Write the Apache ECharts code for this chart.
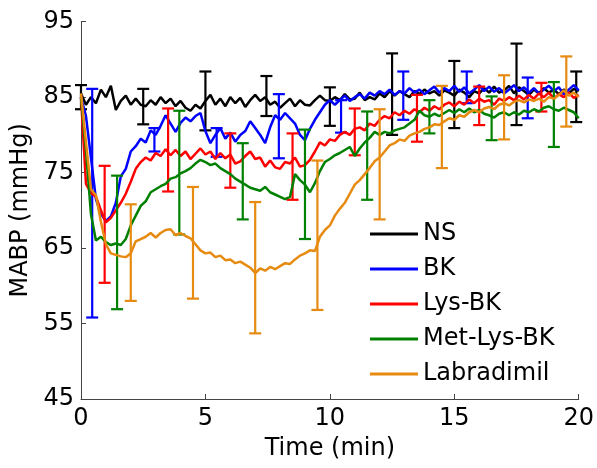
<!DOCTYPE html>
<html>
<head>
<meta charset="utf-8">
<script src="https://cdn.jsdelivr.net/npm/echarts@6/dist/echarts.min.js"></script>
<style>html,body{margin:0;padding:0;background:#fff}#c{width:597px;height:468px}</style>
</head>
<body>
<div id="c"></div>
<script>
var times = [0,0.2,0.4,0.6,0.8,1,1.2,1.4,1.6,1.8,
2,2.2,2.4,2.6,2.8,3,3.2,3.4,3.6,3.8,
4,4.2,4.4,4.6,4.8,5,5.2,5.4,5.6,5.8,
6,6.2,6.4,6.6,6.8,7,7.2,7.4,7.6,7.8,
8,8.2,8.4,8.6,8.8,9,9.2,9.4,9.6,9.8,
10,10.2,10.4,10.6,10.8,11,11.2,11.4,11.6,11.8,
12,12.2,12.4,12.6,12.8,13,13.2,13.4,13.6,13.8,
14,14.2,14.4,14.6,14.8,15,15.2,15.4,15.6,15.8,
16,16.2,16.4,16.6,16.8,17,17.2,17.4,17.6,17.8,
18,18.2,18.4,18.6,18.8,19,19.2,19.4,19.6,19.8,20];

var nsValues = [85.5,84.0,85.0,84.2,86.0,85.0,86.5,83.3,84.5,85.2,
84.0,84.8,84.0,83.8,84.6,84.0,85.0,84.2,84.8,83.8,
84.5,83.6,83.2,84.0,83.5,84.5,85.3,84.0,84.8,83.8,
85.0,84.2,84.9,83.7,84.6,85.3,84.5,85.0,84.0,84.4,
83.6,84.2,84.8,83.8,84.6,84.0,83.9,84.6,85.2,84.6,
84.5,85.0,84.6,85.4,84.7,84.8,85.6,84.6,85.0,84.7,
85.5,85.0,85.8,85.2,85.8,85.4,85.0,85.8,85.4,86.0,
85.5,85.8,85.2,85.9,85.6,85.2,86.0,85.6,85.0,85.8,
85.5,86.2,85.6,86.4,85.6,85.9,86.5,85.5,86.3,85.8,
85.3,86.0,85.5,86.2,85.6,86.0,85.4,86.0,85.5,86.1,85.8];

var bkValues = [85.0,82.5,77.0,71.5,69.5,68.6,69.2,71.0,74.5,75.5,
77.8,78.5,79.5,79.0,80.6,80.0,81.2,82.6,81.5,80.4,
81.6,82.3,81.8,82.5,82.9,80.5,78.9,80.0,80.9,79.5,
80.3,79.1,80.0,80.5,81.8,80.9,80.0,78.9,81.0,82.6,
82.0,82.9,82.2,81.5,80.0,79.3,80.8,82.0,83.0,84.0,
84.6,84.0,84.6,85.2,84.5,85.0,85.4,84.8,85.6,85.2,
85.8,85.4,86.0,85.3,85.8,85.5,86.2,85.6,86.0,85.4,
85.9,86.4,85.6,86.2,85.8,86.5,85.7,86.3,85.5,86.0,
86.6,85.8,86.4,85.7,86.2,85.5,86.0,86.6,85.8,86.3,
85.6,86.2,85.5,86.0,86.5,85.8,86.3,85.4,86.0,86.6,85.9];

var lysValues = [85.0,73.5,72.3,71.8,70.0,68.4,69.0,70.0,71.0,72.2,
73.8,75.5,76.4,77.0,76.6,77.6,77.2,78.1,77.3,78.0,
77.2,77.8,76.8,77.5,78.2,77.4,77.8,76.8,77.6,76.9,
77.4,76.2,76.5,77.2,77.8,76.8,77.0,75.8,76.6,75.7,
75.5,76.4,76.2,77.0,75.8,76.0,76.7,77.8,79.0,78.6,
79.4,79.2,80.0,80.4,80.0,80.8,81.0,80.6,81.5,81.2,
82.0,82.5,82.2,83.0,82.6,83.2,82.8,83.4,83.0,83.6,
83.2,83.8,83.4,84.0,84.3,83.8,84.4,84.0,84.7,84.2,
84.8,84.4,84.6,84.0,84.8,84.5,85.0,84.6,85.2,84.7,
85.3,84.8,85.5,85.0,85.6,84.8,85.4,85.0,85.6,84.9,85.3];

var metValues = [85.0,78.0,69.5,66.0,66.5,65.8,65.4,65.6,65.4,66.2,
68.0,69.3,70.6,71.2,72.4,72.8,73.2,73.5,74.2,74.4,
74.9,75.2,75.6,76.2,76.7,76.4,76.0,76.2,75.6,75.2,
74.8,74.2,73.8,73.4,73.0,72.8,72.6,73.1,72.4,72.1,
71.8,71.5,71.8,74.8,74.0,73.4,72.4,73.6,75.2,76.4,
76.8,77.3,77.6,78.0,78.4,77.2,78.2,79.0,79.6,80.4,
80.0,80.4,80.2,80.6,80.8,81.0,81.5,82.0,83.2,82.6,
82.4,82.8,82.5,82.9,83.3,82.9,83.4,83.0,83.5,83.0,
83.3,82.8,82.6,82.3,82.8,83.0,82.6,83.0,82.7,83.2,
83.0,83.4,83.1,83.6,83.8,83.4,83.2,83.6,83.3,83.0,82.2];

var labValues = [85.5,79.0,72.8,72.0,68.5,65.5,64.3,64.1,63.9,63.8,
64.3,65.9,66.2,66.5,67.0,66.4,67.0,67.4,67.5,66.7,
67.0,66.6,66.3,65.5,64.7,64.3,64.4,63.8,64.0,63.4,
63.5,63.0,63.2,62.8,62.4,61.7,62.3,62.0,62.5,62.2,
62.6,63.0,62.9,63.5,64.0,64.3,64.7,64.6,66.5,67.4,
68.0,69.3,70.2,71.0,72.2,73.4,74.0,74.8,75.6,76.5,
77.0,77.8,78.6,78.9,79.4,79.2,79.9,80.2,80.4,80.8,
81.0,81.4,81.3,81.8,82.2,82.0,82.6,82.4,83.0,83.3,
83.0,83.5,83.7,83.4,84.0,84.2,83.9,84.4,84.6,84.3,
84.7,84.5,84.8,84.4,85.0,84.8,85.3,85.9,85.2,85.6,85.0];

// error bars: [time, low, high]
var nsErr  = [[0,83.4,86.6],[2.5,81.4,86.1],[5,80.6,88.4],[7.45,82.5,87.8],[10,81.2,86.3],[12.5,80.0,90.8],[15,80.9,89.8],[17.5,81.3,92.1],[19.9,81.7,88.4]];
var bkErr  = [[0.45,55.8,86.1],[2.95,77.8,80.9],[5.45,77.1,80.9],[7.95,76.9,85.4],[10.45,80.3,84.6],[12.95,82.0,88.4],[15.5,84.2,88.4],[17.95,82.2,87.6]];
var lysErr = [[0.95,60.4,75.9],[3.5,72.5,83.5],[6.0,73.0,80.2],[8.5,71.4,80.2],[11.0,77.3,83.5],[13.5,79.1,85.3],[16.0,81.3,86.4],[18.5,83.1,86.9]];
var metErr = [[1.45,56.9,74.6],[3.95,66.8,83.2],[6.5,68.8,78.9],[9.0,66.2,80.7],[11.5,71.4,83.1],[14.0,80.2,84.6],[16.5,79.3,85.1],[19.0,78.4,87.0]];
var labErr = [[2.0,58.0,70.8],[4.5,58.3,73.1],[7.0,53.7,71.1],[9.5,56.8,76.6],[12.0,68.8,83.4],[14.5,75.6,86.5],[17.0,79.4,87.9],[19.5,81.1,90.4]];

var names  = ['NS','BK','Lys-BK','Met-Lys-BK','Labradimil'];
var colors = ['#000000','#0000ff','#ff0000','#008000','#e68a10'];
var seriesVals = [nsValues,bkValues,lysValues,metValues,labValues];
var seriesErr  = [nsErr,bkErr,lysErr,metErr,labErr];

var FONT = 'DejaVu Sans';

function pairs(vals){ return times.map(function(t,i){ return [t, vals[i]]; }); }

function errRender(color){
  return function(params, api){
    var x = api.value(0), lo = api.value(1), hi = api.value(2);
    var a = api.coord([x, lo]), b = api.coord([x, hi]);
    var w = 6;
    var st = {stroke: color, lineWidth: 2.2};
    return {type:'group', children:[
      {type:'line', shape:{x1:a[0],y1:a[1],x2:b[0],y2:b[1]}, style:st},
      {type:'line', shape:{x1:a[0]-w,y1:a[1],x2:a[0]+w,y2:a[1]}, style:st},
      {type:'line', shape:{x1:b[0]-w,y1:b[1],x2:b[0]+w,y2:b[1]}, style:st}
    ]};
  };
}

var series = [];
for (var k=0;k<names.length;k++){
  series.push({
    name: names[k], type:'line', data: pairs(seriesVals[k]),
    symbol:'none', showSymbol:false, smooth:false,
    lineStyle:{color:colors[k], width:2.5}, itemStyle:{color:colors[k]},
    z: 2 + k*2, clip:false
  });
  series.push({
    name: names[k]+'_err', type:'custom', data: seriesErr[k],
    renderItem: errRender(colors[k]), encode:{x:0,y:[1,2]},
    z: 3 + k*2, clip:false
  });
}

var chart = echarts.init(document.getElementById('c'), null, {renderer:'canvas'});
chart.setOption({
  animation:false,
  backgroundColor:'#fff',
  grid:{left:81, right:17, top:21.7, bottom:69, containLabel:false},
  xAxis:{
    type:'value', min:0, max:20, interval:5,
    name:'Time (min)', nameLocation:'middle', nameGap:38,
    nameTextStyle:{fontFamily:FONT, fontSize:24, color:'#000'},
    axisLine:{show:true, lineStyle:{color:'#444', width:1}},
    axisTick:{show:true, inside:true, length:5, lineStyle:{color:'#444'}},
    axisLabel:{fontFamily:FONT, fontSize:24, color:'#000', margin:8},
    splitLine:{show:false}
  },
  yAxis:{
    type:'value', min:45, max:95, interval:10,
    name:'MABP (mmHg)', nameLocation:'middle', nameGap:48,
    nameTextStyle:{fontFamily:FONT, fontSize:24, color:'#000'},
    axisLine:{show:true, lineStyle:{color:'#444', width:1}},
    axisTick:{show:true, inside:true, length:5, lineStyle:{color:'#444'}},
    axisLabel:{fontFamily:FONT, fontSize:24, color:'#000', margin:7},
    splitLine:{show:false}
  },
  legend:{
    data:names, orient:'vertical', left:365, top:215,
    icon:'rect', itemWidth:48, itemHeight:3, itemGap:7, itemTextGap:7,
    textStyle:{fontFamily:FONT, fontSize:24, color:'#000', lineHeight:28},
    selectedMode:false
  },
  series: series
});
</script>
</body>
</html>
